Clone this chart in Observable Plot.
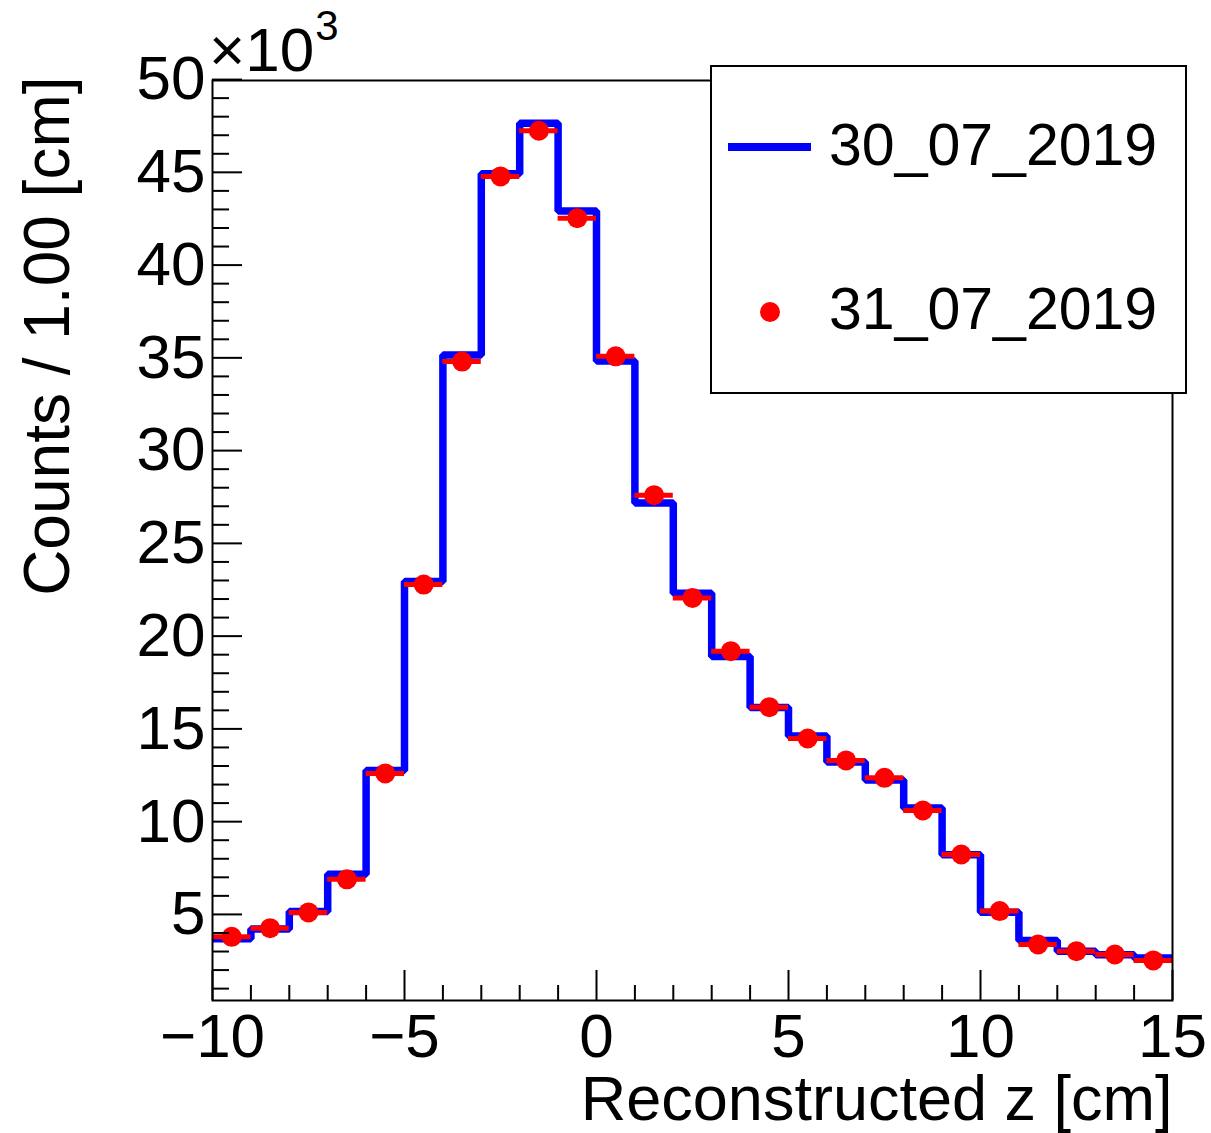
<!DOCTYPE html>
<html>
<head>
<meta charset="utf-8">
<script src="https://cdn.jsdelivr.net/npm/d3@7"></script>
<script src="https://cdn.jsdelivr.net/npm/@observablehq/plot@0.6"></script>
<style>
  html, body { margin: 0; padding: 0; background: #fff; }
  #chart { width: 1211px; height: 1133px; overflow: hidden; }
</style>
</head>
<body>
<div id="chart"></div>
<script>
// Reconstructed z distribution, 1 cm bins from -10 to 15 cm
const binStart = [-10, -9, -8, -7, -6, -5, -4, -3, -2, -1, 0, 1, 2, 3, 4, 5, 6, 7, 8, 9, 10, 11, 12, 13, 14];
const binWidth = 1;

// Run of 30_07_2019 (histogram, counts per bin)
const counts3007 = [3690, 4220, 5160, 7170, 12760, 22940, 35150, 44930, 47650, 42910, 34830, 27170, 22310,
                    18900, 16150, 14620, 13210, 12250, 10730, 8210, 5120, 3600, 3010, 2820, 2650];
// Run of 31_07_2019 (points, counts per bin)
const counts3107 = [3790, 4260, 5110, 6890, 12600, 22780, 34800, 44780, 47240, 42530, 35080, 27600, 22060,
                    19190, 16170, 14480, 13300, 12360, 10600, 8230, 5180, 3380, 3020, 2840, 2520];

const seriesNames = ["30_07_2019", "31_07_2019"];

// Axis ticks
const xMajor = [-10, -5, 0, 5, 10, 15];
const xMajorLabels = ["\u221210", "\u22125", "0", "5", "10", "15"];
const xMinor = [-9, -8, -7, -6, -4, -3, -2, -1, 1, 2, 3, 4, 6, 7, 8, 9, 11, 12, 13, 14];
const yMajor = [5, 10, 15, 20, 25, 30, 35, 40, 45, 50];
const yMajorLabels = ["5", "10", "15", "20", "25", "30", "35", "40", "45", "50"];
const yMinor = d3.range(1, 50).filter(v => v % 5 !== 0);

const scale = 1e-3; // axis shown in units of 10^3

// Step outline for the histogram: one vertex per bin edge, last edge repeats the last bin
const steps = binStart.map((x, i) => ({x, y: counts3007[i] * scale}))
  .concat([{x: binStart[binStart.length - 1] + binWidth, y: counts3007[counts3007.length - 1] * scale}]);

// Points with horizontal bin-width bars
const points = binStart.map((x, i) => ({
  lo: x, hi: x + binWidth, c: x + binWidth / 2, v: counts3107[i] * scale
}));

const W = 1211, H = 1133;
const mL = 212, mR = 39, mT = 80, mB = 133;
const innerW = W - mL - mR, innerH = H - mT - mB;
const font = "'Liberation Sans', Arial, Helvetica, sans-serif";
const fsTick = 62, fsTitleX = 63, fsTitleY = 64, fsLegend = 59;

const chart = Plot.plot({
  width: W,
  height: H,
  marginLeft: mL,
  marginRight: mR,
  marginTop: mT,
  marginBottom: mB,
  style: {fontFamily: font, background: "#fff", color: "#000"},
  x: {domain: [-10, 15], axis: null},
  y: {domain: [0.36, 49.95], axis: null},
  marks: [
    // histogram of the first run
    Plot.lineY(steps, {x: "x", y: "y", curve: "step-after", stroke: "#0000ff", strokeWidth: 7.5,
                       strokeLinejoin: "miter", strokeLinecap: "butt"}),
    // second run: bin-width bars and markers
    Plot.ruleY(points, {y: "v", x1: "lo", x2: "hi", stroke: "#ff0000", strokeWidth: 5}),
    Plot.dot(points, {x: "c", y: "v", r: 10, fill: "#ff0000", stroke: "none"}),
    // frame
    Plot.frame({stroke: "#000", strokeWidth: 2}),
    // inward ticks on the bottom and left axes
    Plot.tickX(xMajor, {x: d => d, insetTop: innerH - 30, stroke: "#000", strokeWidth: 2}),
    Plot.tickX(xMinor, {x: d => d, insetTop: innerH - 15, stroke: "#000", strokeWidth: 2}),
    Plot.tickY(yMajor, {y: d => d, insetRight: innerW - 30, stroke: "#000", strokeWidth: 2}),
    Plot.tickY(yMinor, {y: d => d, insetRight: innerW - 17, stroke: "#000", strokeWidth: 2}),
    // tick labels
    Plot.text(xMajor, {x: d => d, text: (d, i) => xMajorLabels[i], frameAnchor: "bottom",
                       dy: 37, lineAnchor: "middle", fontSize: fsTick, fill: "#000"}),
    Plot.text(yMajor, {y: d => d, text: (d, i) => yMajorLabels[i], frameAnchor: "left",
                       dx: -7, textAnchor: "end", lineAnchor: "middle", fontSize: fsTick, fill: "#000"}),
    // axis titles
    Plot.text(["Reconstructed z [cm]"], {frameAnchor: "bottom-right", textAnchor: "end",
                       lineAnchor: "middle", dy: 99, fontSize: fsTitleX, fill: "#000"}),
    Plot.text(["Counts / 1.00 [cm]"], {frameAnchor: "top-left", textAnchor: "end", rotate: -90,
                       lineAnchor: "middle", dx: -164, dy: -4, fontSize: fsTitleY, fill: "#000"})
  ]
});

const svg = d3.select(chart);

// exponent label above the y axis
const expo = svg.append("text")
  .attr("x", mL - 3).attr("y", 71).attr("text-anchor", "start")
  .attr("font-family", font).attr("font-size", fsTick).attr("fill", "#000");
expo.append("tspan").text("\u00d710");
expo.append("tspan").attr("font-size", 42).attr("dy", -31).attr("dx", 1).text("3");

// legend box
const lg = svg.append("g").attr("font-family", font).attr("font-size", fsLegend).attr("text-anchor", "start");
lg.append("rect").attr("x", 711).attr("y", 66).attr("width", 475).attr("height", 327)
  .attr("fill", "#fff").attr("stroke", "#000").attr("stroke-width", 2);
lg.append("line").attr("x1", 728).attr("x2", 811).attr("y1", 147).attr("y2", 147)
  .attr("stroke", "#0000ff").attr("stroke-width", 8);
lg.append("text").attr("x", 829).attr("y", 165).attr("fill", "#000").text(seriesNames[0]);
lg.append("circle").attr("cx", 770).attr("cy", 312).attr("r", 10).attr("fill", "#ff0000");
lg.append("text").attr("x", 829).attr("y", 329).attr("fill", "#000").text(seriesNames[1]);

document.getElementById("chart").appendChild(chart);
</script>
</body>
</html>
